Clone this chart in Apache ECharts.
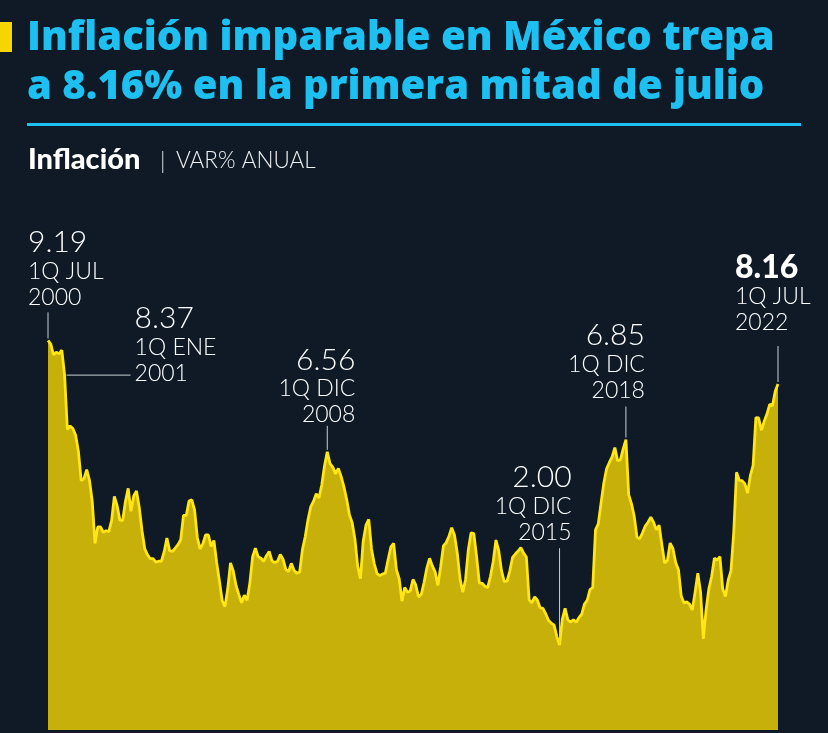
<!DOCTYPE html>
<html>
<head>
<meta charset="utf-8">
<script src="https://cdn.jsdelivr.net/npm/echarts@6/dist/echarts.min.js"></script>
<style>
html,body{margin:0;padding:0;background:#0f1a26;}
#c{width:828px;height:733px;}
</style>
</head>
<body>
<div id="c"></div>
<script>
// Monthly annual inflation (%), from 1Q JUL 2000 to 1Q JUL 2022
const monthNames = ['ENE','FEB','MAR','ABR','MAY','JUN','JUL','AGO','SEP','OCT','NOV','DIC'];
const startYear = 2000, startMonth = 6; // July 2000
const inflation = [
  9.19, 9.10, 8.85, 8.91, 8.87, 8.96,
  8.37, 7.09, 7.17, 7.11, 6.95, 6.57, 5.88, 5.93, 6.14, 5.89, 5.39, 4.40,
  4.79, 4.79, 4.66, 4.70, 4.68, 4.94, 5.51, 5.29, 4.95, 4.94, 5.39, 5.70,
  5.16, 5.52, 5.64, 5.25, 4.70, 4.27, 4.13, 4.04, 4.04, 3.96, 3.98, 3.98,
  4.20, 4.53, 4.23, 4.21, 4.29, 4.37, 4.49, 5.06, 5.06, 5.40, 5.43, 5.19,
  4.54, 4.27, 4.39, 4.60, 4.60, 4.33, 4.47, 3.95, 3.51, 3.05, 2.91, 3.33,
  3.94, 3.75, 3.41, 3.20, 3.00, 3.18, 3.06, 3.47, 4.09, 4.29, 4.09, 4.05,
  3.98, 4.11, 4.21, 3.99, 3.95, 3.98, 4.14, 4.03, 3.79, 3.74, 3.93, 3.76,
  3.70, 3.72, 4.25, 4.55, 4.95, 5.26, 5.39, 5.57, 5.47, 5.78, 6.23, 6.56,
  6.28, 6.20, 6.04, 6.17, 5.98, 5.74, 5.44, 5.08, 4.89, 4.50, 3.86, 3.57,
  4.46, 4.83, 4.97, 4.27, 3.92, 3.69, 3.64, 3.68, 3.70, 4.02, 4.32, 4.40,
  3.78, 3.57, 3.04, 3.36, 3.25, 3.28, 3.55, 3.42, 3.14, 3.20, 3.48, 3.82,
  4.05, 3.87, 3.73, 3.41, 3.85, 4.34, 4.42, 4.57, 4.77, 4.60, 4.18, 3.57,
  3.25, 3.55, 4.25, 4.65, 4.63, 4.09, 3.47, 3.46, 3.39, 3.36, 3.62, 3.97,
  4.48, 4.23, 3.76, 3.50, 3.51, 3.75, 4.07, 4.15, 4.22, 4.30, 4.17, 4.08,
  3.07, 3.00, 3.14, 3.06, 2.88, 2.87, 2.74, 2.59, 2.52, 2.48, 2.21, 2.00,
  2.61, 2.87, 2.60, 2.54, 2.60, 2.54, 2.65, 2.73, 2.97, 3.06, 3.31, 3.36,
  4.72, 4.86, 5.35, 5.82, 6.16, 6.31, 6.44, 6.66, 6.35, 6.37, 6.63, 6.85,
  5.55, 5.34, 5.04, 4.55, 4.51, 4.65, 4.81, 4.90, 5.02, 4.90, 4.72, 4.83,
  4.37, 3.94, 4.00, 4.41, 4.28, 3.95, 3.78, 3.16, 3.00, 3.02, 2.97, 2.83,
  3.24, 3.70, 3.25, 2.15, 2.84, 3.33, 3.62, 4.05, 4.01, 4.09, 3.33, 3.15,
  3.54, 3.76, 4.67, 6.08, 5.89, 5.88, 5.81, 5.59, 6.00, 6.24, 7.37, 7.36,
  7.07, 7.28, 7.45, 7.68, 7.65, 7.99, 8.16
];
// Annotated points
const annIndex  = [0, 6, 101, 185, 209, 264];
const annValue  = ['9.19', '8.37', '6.56', '2.00', '6.85', '8.16'];
const annPeriod = ['1Q JUL', '1Q ENE', '1Q DIC', '1Q DIC', '1Q DIC', '1Q JUL'];
const annYear   = ['2000', '2001', '2008', '2015', '2018', '2022'];
const titleLines = ['Inflación imparable en México trepa', 'a 8.16% en la primera mitad de julio'];

const categories = inflation.map((v, i) => {
  const m = (startMonth + i) % 12;
  const y = startYear + Math.floor((startMonth + i) / 12);
  return monthNames[m] + ' ' + y;
});

const BG = '#0f1a26', CYAN = '#1dc0f0', WHITE = '#ffffff', LEAD = '#c9ced4';
const chart = echarts.init(document.getElementById('c'), null, {renderer: 'canvas'});

chart.setOption({
  backgroundColor: BG,
  animation: false,
  grid: {left: 48, right: 50, top: 306, bottom: 3},
  xAxis: {type: 'category', data: categories, boundaryGap: false, show: false},
  yAxis: {type: 'value', min: 0, max: 10, show: false},
  series: [{
    type: 'line',
    data: inflation,
    symbol: 'none',
    lineStyle: {color: '#ffe614', width: 2.8},
    areaStyle: {color: '#c8b00b', opacity: 1}
  }]
});

// fit the title font size so that line 1 spans the reference width
const TITLE_FAMILY = '"Open Sans"';
const meas = document.createElement('canvas').getContext('2d');
meas.font = '800 100px ' + TITLE_FAMILY;
const titleSize = Math.min(44, 100 * 748 / meas.measureText(titleLines[0]).width);

const annLayout = [
  {tx: -20, align: 'left',  ny: -98,  lead: 'v', ly: -28},
  {tx: 70,  align: 'left',  ny: -57,  lead: 'h', lx: 66},
  {tx: 28,  align: 'right', ny: -92,  lead: 'v', ly: -26},
  {tx: 12,  align: 'right', ny: -168, lead: 'v', ly: -97},
  {tx: 19,  align: 'right', ny: -104, lead: 'v', ly: -33},
  {tx: -43, align: 'left',  ny: -116, lead: 'v', ly: -38, bold: true}
];

const FONT = 'Lato';
const elements = [
  {type: 'rect', shape: {x: 0, y: 22, width: 12, height: 30}, style: {fill: '#f7d600'}},
  {type: 'text', x: 27, y: 39, style: {text: titleLines[0], fill: CYAN,
    font: '800 ' + titleSize + 'px ' + TITLE_FAMILY, textVerticalAlign: 'middle'}},
  {type: 'text', x: 27, y: 88, style: {text: titleLines[1], fill: CYAN,
    font: '800 ' + titleSize + 'px ' + TITLE_FAMILY, textVerticalAlign: 'middle'}},
  {type: 'rect', shape: {x: 27, y: 123, width: 774, height: 3}, style: {fill: CYAN}},
  {type: 'text', x: 28, y: 160, style: {text: 'Inflación', fill: WHITE,
    font: '900 29px ' + FONT, textVerticalAlign: 'middle'}},
  {type: 'text', x: 160, y: 162, style: {text: '|', fill: '#dfe3e8',
    font: '300 23px ' + FONT, textVerticalAlign: 'middle'}},
  {type: 'text', x: 176, y: 161, style: {text: 'VAR% ANUAL', fill: '#eef0f2',
    font: '300 22.5px ' + FONT, textVerticalAlign: 'middle'}}
];

annIndex.forEach((idx, k) => {
  const p = chart.convertToPixel({seriesIndex: 0}, [idx, inflation[idx]]);
  const L = annLayout[k];
  const ax = p[0] + L.tx;
  const common = {textAlign: L.align, textVerticalAlign: 'middle', fill: WHITE};
  elements.push({type: 'text', x: ax, y: p[1] + L.ny,
    style: Object.assign({text: annValue[k], font: (L.bold ? '900 32px ' : '300 30px ') + FONT}, common)});
  elements.push({type: 'text', x: ax, y: p[1] + L.ny + 29,
    style: Object.assign({text: annPeriod[k], font: '300 23px ' + FONT}, common)});
  elements.push({type: 'text', x: ax, y: p[1] + L.ny + 55,
    style: Object.assign({text: annYear[k], font: '300 23px ' + FONT}, common)});
  if (L.lead === 'v') {
    elements.push({type: 'line', shape: {x1: p[0], y1: p[1] + L.ly, x2: p[0], y2: p[1] - 2},
      style: {stroke: LEAD, lineWidth: 1}, z: 10});
  } else {
    elements.push({type: 'line', shape: {x1: p[0] + 2, y1: p[1], x2: p[0] + L.lx, y2: p[1]},
      style: {stroke: LEAD, lineWidth: 1}, z: 10});
  }
});

chart.setOption({graphic: {elements: elements}});
</script>
</body>
</html>
